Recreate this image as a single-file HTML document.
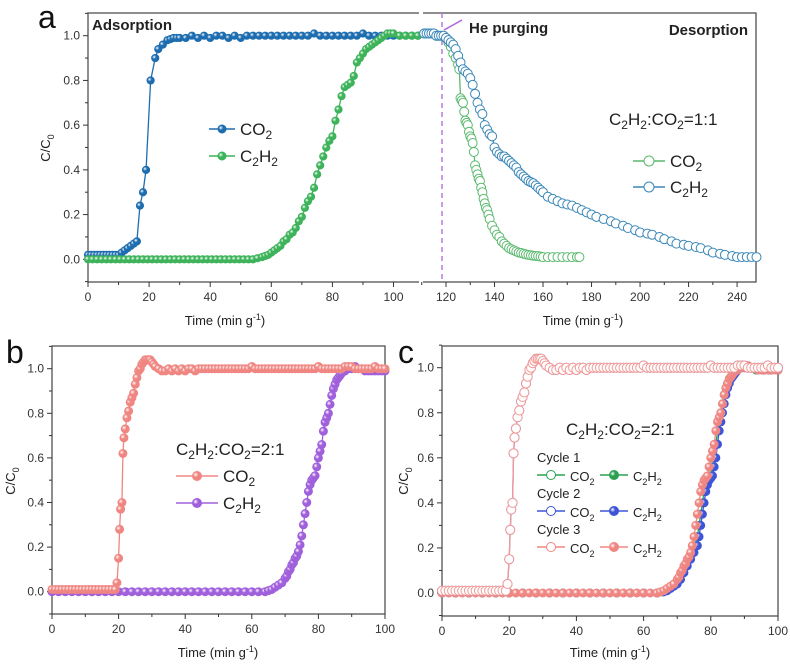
<!DOCTYPE html>
<html><head><meta charset="utf-8"><style>
body{margin:0;background:#fff}
svg{display:block;font-family:"Liberation Sans",sans-serif}
</style></head><body>
<svg id="fig" width="790" height="664" viewBox="0 0 790 664"></svg>
<script>
// ---------- data (panel a) ----------
const aCO2t=[0,1,2,3,4,5,6,7,8,9,10,11,12,13,14,15,16,17,18,19,20.5,22,23,24.5,26,27,28,29,30,32,34,36,38,40,42,44,46,48,50,52,54,56,58,60,62,64,66,68,70,72,74,76,78,80,82,84,86,88,90,92,94,96,98,100,102,104,106,108];
const aCO2v=[0.02,0.02,0.02,0.02,0.02,0.02,0.02,0.02,0.02,0.02,0.02,0.03,0.04,0.05,0.06,0.07,0.08,0.24,0.30,0.40,0.80,0.90,0.94,0.96,0.98,0.985,0.99,0.99,0.99,0.99,1.0,0.99,1.0,0.99,1.0,1.0,0.99,1.0,0.99,1.0,1.0,1.0,1.0,1.0,1.0,1.0,1.0,1.0,1.0,1.0,1.01,1.0,1.0,1.0,1.0,1.0,1.0,1.0,1.01,1.0,1.0,1.0,1.0,1.0,1.0,1.0,1.0,1.0];
const aC2H2t=[0,1.5,3,4.5,6,7.5,9,10.5,12,13.5,15,16.5,18,19.5,21,22.5,24,25.5,27,28.5,30,31.5,33,34.5,36,37.5,39,40.5,42,43.5,45,46.5,48,49.5,51,52.5,54,55.5,57,58,59,60,61,62,63,64,65,66,67,68,69,70,71,72,73,74,75,76,77,78,79,80,81,82,83,84,85,86,87,88,89,90,91,92,93,94,95,96,97,98,99,100,102,104,106,108];
const aC2H2v=[0,0,0,0,0,0,0,0,0,0,0,0,0,0,0,0,0,0,0,0,0,0,0,0,0,0,0,0,0,0,0,0,0,0,0,0,0,0.005,0.01,0.015,0.02,0.03,0.04,0.05,0.06,0.08,0.09,0.11,0.12,0.14,0.17,0.19,0.23,0.26,0.28,0.32,0.38,0.42,0.46,0.50,0.53,0.55,0.62,0.67,0.73,0.77,0.78,0.79,0.82,0.88,0.90,0.92,0.94,0.95,0.96,0.97,0.98,0.99,1.0,1.01,1.01,1.01,1.0,1.0,1.0,1.0];
const dCO2t=[111,112,113,114,115,116,117,118,119,120,121,122,123,124,125,125.5,126,126.5,127,127.5,128,128.5,129,129.5,130,130.5,131,131.5,132,132.5,133,133.5,134,134.5,135,135.5,136,136.5,137,137.5,138,139,140,141,142,143,144,145,146,147,148,149,150,151,152,153,154,155,156,157,158,159,160,162,164,166,168,170,172,174,175];
const dCO2v=[1.01,1.01,1.01,1.01,1.01,1.0,1.0,1.0,1.0,0.99,0.97,0.95,0.92,0.90,0.87,0.85,0.72,0.71,0.70,0.66,0.62,0.61,0.60,0.57,0.55,0.54,0.52,0.48,0.42,0.40,0.38,0.36,0.35,0.32,0.30,0.27,0.25,0.23,0.22,0.20,0.18,0.15,0.13,0.11,0.10,0.08,0.07,0.06,0.05,0.045,0.04,0.035,0.03,0.028,0.025,0.022,0.02,0.018,0.016,0.015,0.014,0.012,0.01,0.01,0.01,0.01,0.01,0.01,0.01,0.01,0.01];
const dC2H2t=[111,112,113,114,115,116,117,118,119,120,121,122,123,124,125,126,127,128,129,130,131,132,133,134,135,136,137,138,139,140,141,142,143,144,145,146,147,148,149,150,151,152,153,154,155,156,157,158,159,160,162,164,166,168,170,172,174,176,178,180,182,185,188,190,193,195,198,200,203,205,208,210,213,215,218,220,223,225,228,230,233,235,238,240,242,244,246,248];
const dC2H2v=[1.01,1.01,1.01,1.01,1.01,1.0,1.0,1.0,1.0,0.99,0.98,0.97,0.96,0.94,0.91,0.88,0.85,0.84,0.83,0.81,0.78,0.74,0.70,0.67,0.65,0.60,0.58,0.56,0.55,0.50,0.48,0.47,0.46,0.46,0.45,0.44,0.43,0.42,0.41,0.39,0.38,0.37,0.36,0.35,0.345,0.34,0.33,0.32,0.31,0.30,0.28,0.27,0.26,0.25,0.245,0.24,0.23,0.22,0.21,0.20,0.19,0.18,0.17,0.16,0.15,0.14,0.13,0.12,0.115,0.11,0.10,0.09,0.08,0.07,0.065,0.06,0.055,0.05,0.04,0.03,0.025,0.02,0.015,0.01,0.01,0.01,0.01,0.01];
// ---------- data (panel b / c) ----------
const bCO2t=[0,1,2,3,4,5,6,7,8,9,10,11,12,13,14,15,16,17,18,19,19.5,20,20.3,20.6,21,21.3,21.6,22,22.5,23,23.5,24,24.5,25,25.5,26,26.5,27,27.5,28,28.5,29,29.5,30,30.5,31,32,33,34,35,36,37,38,39,40,41,42,43,44,45,46,47,48,49,50,51,52,53,54,55,56,57,58,59,60,61,62,63,64,65,66,67,68,69,70,71,72,73,74,75,76,77,78,79,80,81,82,83,84,85,86,87,88,89,90,91,92,93,94,95,96,97,98,99,100];
const bCO2v=[0.01,0.01,0.01,0.01,0.01,0.01,0.01,0.01,0.01,0.01,0.01,0.01,0.01,0.01,0.01,0.01,0.01,0.01,0.01,0.01,0.04,0.15,0.28,0.37,0.40,0.62,0.69,0.73,0.78,0.81,0.85,0.87,0.89,0.93,0.96,0.99,1.0,1.02,1.03,1.04,1.04,1.04,1.04,1.03,1.02,1.01,1.0,0.99,0.99,1.0,0.99,1.0,0.99,1.0,0.99,1.0,1.0,0.99,1.0,1.0,1.0,1.0,1.0,1.0,1.0,1.0,1.0,1.0,1.0,1.0,1.0,1.0,1.0,1.0,1.01,1.0,1.0,1.0,1.0,1.0,1.0,1.0,1.0,1.0,1.0,1.0,1.0,1.0,1.0,1.0,1.0,1.0,1.0,1.0,1.01,1.0,1.0,1.0,1.0,1.0,1.0,1.0,1.01,1.01,1.01,1.0,1.0,1.0,1.0,1.0,1.0,1.01,1.0,1.0,1.0];
const bC2H2t=[0,2,4,6,8,10,12,14,16,18,20,22,24,26,28,30,32,34,36,38,40,42,44,46,48,50,52,54,56,58,60,62,64,65,66,67,68,69,70,70.5,71,71.5,72,72.5,73,73.5,74,74.5,75,75.5,76,76.5,77,77.5,78,78.5,79,79.5,80,80.5,81,81.5,82,82.5,83,83.5,84,84.5,85,85.5,86,86.5,87,88,89,90,91,92,93,94,95,96,97,98,99,100];
const bC2H2v=[0,0,0,0,0,0,0,0,0,0,0,0,0,0,0,0,0,0,0,0,0,0,0,0,0,0,0,0,0,0,0,0,0,0.005,0.01,0.02,0.03,0.04,0.06,0.07,0.09,0.10,0.12,0.13,0.15,0.16,0.18,0.21,0.25,0.30,0.35,0.40,0.45,0.48,0.50,0.51,0.52,0.56,0.60,0.63,0.66,0.72,0.76,0.78,0.80,0.84,0.88,0.91,0.93,0.95,0.96,0.97,0.98,0.99,1.0,1.0,1.01,1.0,1.0,0.99,0.99,0.99,0.99,0.99,0.99,0.99];
const cC2H2t1=[0,4,8,12,16,20,24,28,32,36,40,44,48,52,56,60,64,66,67,68,69,70,71,72,73,74,75,76,76.5,77,77.5,78,78.5,79,79.5,80,80.5,81,81.5,82,82.5,83,83.5,84,84.5,85,85.5,86,86.5,87,87.5,88,89,90,92,94,96,98,100];
const cC2H2v1=[0,0,0,0,0,0,0,0,0,0,0,0,0,0,0,0,0,0.005,0.01,0.02,0.03,0.04,0.06,0.09,0.12,0.15,0.18,0.21,0.25,0.30,0.35,0.40,0.45,0.48,0.50,0.51,0.52,0.56,0.60,0.66,0.72,0.76,0.80,0.84,0.88,0.91,0.93,0.95,0.96,0.97,0.98,0.99,1.0,1.0,1.0,0.99,0.99,0.99,0.99];
const cC2H2t2=[0,4,8,12,16,20,24,28,32,36,40,44,48,52,56,60,64,65.5,66.5,67.5,68.5,69.5,70.5,71.5,72.5,73.5,74.5,75.5,76,76.5,77,77.5,78,78.5,79,79.5,80,80.5,81,81.5,82,82.5,83,83.5,84,84.5,85,85.5,86,86.5,87,87.5,88.5,89.5,91.5,93.5,95.5,97.5,100];
const cC2H2v2=[0,0,0,0,0,0,0,0,0,0,0,0,0,0,0,0,0,0.005,0.01,0.02,0.03,0.04,0.06,0.09,0.12,0.15,0.18,0.21,0.25,0.30,0.35,0.40,0.45,0.48,0.50,0.51,0.52,0.56,0.60,0.66,0.72,0.76,0.80,0.84,0.88,0.91,0.93,0.95,0.96,0.97,0.98,0.99,1.0,1.0,1.0,0.99,0.99,0.99,0.99];

const xTicksA=[0,20,40,60,80,100], xTicksR=[120,140,160,180,200,220,240], xTicksB=[0,20,40,60,80,100];
const yTicks=[0,0.2,0.4,0.6,0.8,1.0];

// ---------- drawing ----------
const NS="http://www.w3.org/2000/svg", svg=document.getElementById('fig');
function el(tag,attrs,parent,text){const e=document.createElementNS(NS,tag);for(const k in attrs)e.setAttribute(k,attrs[k]);if(text!==undefined)e.textContent=text;(parent||svg).appendChild(e);return e;}
function lin(d0,d1,r0,r1){return v=>r0+(v-d0)/(d1-d0)*(r1-r0);}

function grad(id,c){const defs=svg.querySelector('defs')||el('defs',{});const g=el('radialGradient',{id:id,cx:'35%',cy:'35%',r:'65%'},defs);el('stop',{offset:'0%','stop-color':'#fff'},g);el('stop',{offset:'45%','stop-color':c},g);el('stop',{offset:'100%','stop-color':c},g);}
grad('gBlue','#1d6db0');grad('gGreen','#3db35a');grad('gPink','#f08682');grad('gPurple','#a060dc');grad('gBlue2','#3f55d8');grad('gGreen2','#2aa050');

function series(g,ts,vs,sx,sy,color,fill,r,name){
  const grp=el('g',{},g);
  
  
  el('polyline',{points:ts.map((t,i)=>sx(t)+','+sy(vs[i])).join(' '),fill:'none',stroke:color,'stroke-width':1.3},grp);
  ts.forEach((t,i)=>{const c=el('circle',{cx:sx(t),cy:sy(vs[i]),r:r,fill:fill,stroke:color,'stroke-width':1},grp);
    
    });
}
function yAxis(g,sy,x){yTicks.forEach(v=>{el('line',{x1:x-5,x2:x,y1:sy(v),y2:sy(v),stroke:'#333'},g);el('text',{x:x-8,y:sy(v)+4,'text-anchor':'end','font-size':12,fill:'#333'},g,v.toFixed(1));});
  for(let v=-0.1;v<1.1;v+=0.2){el('line',{x1:x-3,x2:x,y1:sy(v+0.0001),y2:sy(v+0.0001),stroke:'#333'},g);}}
function xAxis(g,sx,ticks,y){ticks.forEach(t=>{el('line',{x1:sx(t),x2:sx(t),y1:y,y2:y+5,stroke:'#333'},g);el('text',{x:sx(t),y:y+19,'text-anchor':'middle','font-size':12,fill:'#333'},g,t);});
  for(let i=0;i<ticks.length-1;i++){const m=(ticks[i]+ticks[i+1])/2;el('line',{x1:sx(m),x2:sx(m),y1:y,y2:y+3,stroke:'#333'},g);}}
function xTitle(g,x,y){const t=el('text',{x:x,y:y,'text-anchor':'middle','font-size':13,fill:'#222'},g);t.innerHTML='Time (min g<tspan dy="-5" font-size="9">-1</tspan><tspan dy="5">)</tspan>';}
function yTitle(g,x,y){const t=el('text',{x:x,y:y,'text-anchor':'middle','font-size':13,fill:'#222',transform:`rotate(-90 ${x} ${y})`},g);t.innerHTML='C/C<tspan dy="4" font-size="9">0</tspan>';}
function chem(g,x,y,parts,size,name){const t=el('text',{x:x,y:y,'font-size':size,fill:'#222'},g);let h='',down=false;
  parts.forEach(p=>{if(typeof p==='string'){h+=`<tspan${down?' dy="-4"':''}>${p}</tspan>`;down=false;}else{h+=`<tspan dy="4" font-size="${Math.round(size*0.68)}">${p[0]}</tspan>`;down=true;}});
  t.innerHTML=h;return t;}
const CO2=['CO',['2']], C2H2=['C',['2'],'H',['2']], RATIO=(r)=>['C',['2'],'H',['2'],':CO',['2'],'='+r];
function legendRow(g,x,y,len,color,fill,r,label,size,name){const grp=el('g',{},g);
  el('line',{x1:x,x2:x+len,y1:y,y2:y,stroke:color,'stroke-width':1.5},grp);el('circle',{cx:x+len/2,cy:y,r:r,fill:fill,stroke:color},grp);chem(grp,x+len+5,y+6,label,size,name+'-label');}

// ===== Panel a =====
const ga=el('g',{});
const syA=lin(0,1,259.3,35.7), sxL=lin(0,109,88,421), sxR=lin(109.7,247.8,421,756);
el('rect',{x:88,y:13,width:668,height:269,fill:'none',stroke:'#444','stroke-width':1.2},ga);
el('rect',{x:419,y:10,width:4,height:6,fill:'#fff'},ga);el('rect',{x:419,y:279,width:4,height:6,fill:'#fff'},ga);
yAxis(ga,syA,88);xAxis(ga,sxL,xTicksA,282);xAxis(ga,sxR,xTicksR,282);
el('line',{x1:sxR(110),x2:sxR(110),y1:282,y2:285,stroke:'#333'},ga);
el('line',{x1:442,x2:442,y1:13,y2:282,stroke:'#b77be0','stroke-width':1.5,'stroke-dasharray':'5,4'},ga);
series(ga,aCO2t,aCO2v,sxL,syA,'#1d6db0','url(#gBlue)',3.6,'series-a-co2');
series(ga,aC2H2t,aC2H2v,sxL,syA,'#3db35a','url(#gGreen)',3.6,'series-a-c2h2');
series(ga,dCO2t,dCO2v,sxR,syA,'#5cba6f','#fff',4.5,'series-a-desorb-co2');
series(ga,dC2H2t,dC2H2v,sxR,syA,'#3a87b8','#fff',4.5,'series-a-desorb-c2h2');
el('line',{x1:444,x2:462,y1:30,y2:20,stroke:'#b060e0','stroke-width':1.5},ga);
el('text',{x:469,y:33,'font-size':15,'font-weight':'bold',fill:'#222'},ga,'He purging');
el('text',{x:92,y:30,'font-size':15,'font-weight':'bold',fill:'#222'},ga,'Adsorption');
el('text',{x:748,y:35,'font-size':15,'font-weight':'bold','text-anchor':'end',fill:'#222'},ga,'Desorption');
el('text',{x:38,y:28,'font-size':32,fill:'#111'},ga,'a');
legendRow(ga,209,129,26,'#1d6db0','url(#gBlue)',4,CO2,17,'legend-a-co2');
legendRow(ga,209,156,26,'#3db35a','url(#gGreen)',4,C2H2,17,'legend-a-c2h2');
chem(ga,609,125,RATIO('1:1'),17,'legend-a-ratio');
legendRow(ga,633,161,32,'#5cba6f','#fff',5,CO2,17,'legend-a-desorb-co2');
legendRow(ga,633,187,32,'#3a87b8','#fff',5,C2H2,17,'legend-a-desorb-c2h2');
xTitle(ga,225,325);xTitle(ga,583,325);yTitle(ga,50,148);

// ===== Panel b =====
const gb=el('g',{});
const sxB=lin(0,100,52,385), syB=lin(0,1,591.7,368.7);
el('rect',{x:52,y:346,width:333,height:268,fill:'none',stroke:'#444','stroke-width':1.2},gb);
yAxis(gb,syB,52);xAxis(gb,sxB,xTicksB,614);
series(gb,bC2H2t,bC2H2v,sxB,syB,'#a060dc','url(#gPurple)',4,'series-b-c2h2');
series(gb,bCO2t,bCO2v,sxB,syB,'#f08682','url(#gPink)',4,'series-b-co2');
el('text',{x:6,y:363,'font-size':32,fill:'#111'},gb,'b');
chem(gb,176,455,RATIO('2:1'),17,'legend-b-ratio');
legendRow(gb,176,476,42,'#f08682','url(#gPink)',4.5,CO2,17,'legend-b-co2');
legendRow(gb,176,503,42,'#a060dc','url(#gPurple)',4.5,C2H2,17,'legend-b-c2h2');
xTitle(gb,218,657);yTitle(gb,15,481);

// ===== Panel c =====
const gc=el('g',{});
const sxC=lin(0,100,442,778), syC=lin(0,1,593,367.7);
el('rect',{x:442,y:346,width:336,height:270,fill:'none',stroke:'#444','stroke-width':1.2},gc);
yAxis(gc,syC,442);xAxis(gc,sxC,xTicksB,616);
series(gc,cC2H2t2,cC2H2v2,sxC,syC,'#2aa050','url(#gGreen2)',4,'series-c-cycle1-c2h2');
series(gc,cC2H2t1,cC2H2v1,sxC,syC,'#3f55d8','url(#gBlue2)',4,'series-c-cycle2-c2h2');
series(gc,bC2H2t,bC2H2v,sxC,syC,'#f08682','url(#gPink)',4,'series-c-cycle3-c2h2');
series(gc,bCO2t,bCO2v,sxC,syC,'#6a70d8','#fff',4.5,'series-c-cycle2-co2');
series(gc,bCO2t,bCO2v,sxC,syC,'#f29a96','#fff',4.5,'series-c-cycle3-co2');
el('text',{x:398,y:363,'font-size':32,fill:'#111'},gc,'c');
chem(gc,566,435,RATIO('2:1'),17,'legend-c-ratio');
const cyc=[['Cycle 1','#2aa050','url(#gGreen2)',462],['Cycle 2','#3f55d8','url(#gBlue2)',498],['Cycle 3','#f08682','url(#gPink)',534]];
cyc.forEach((c,i)=>{el('text',{x:537,y:c[3],'font-size':13,fill:'#222'},gc,c[0]);
  legendRow(gc,537,c[3]+13,28,c[1],'#fff',4.5,CO2,13,'legend-c-cycle'+(i+1)+'-co2');
  legendRow(gc,600,c[3]+13,28,c[1],c[2],4.5,C2H2,13,'legend-c-cycle'+(i+1)+'-c2h2');});
xTitle(gc,610,657);yTitle(gc,408,481);
</script>
</body></html>
